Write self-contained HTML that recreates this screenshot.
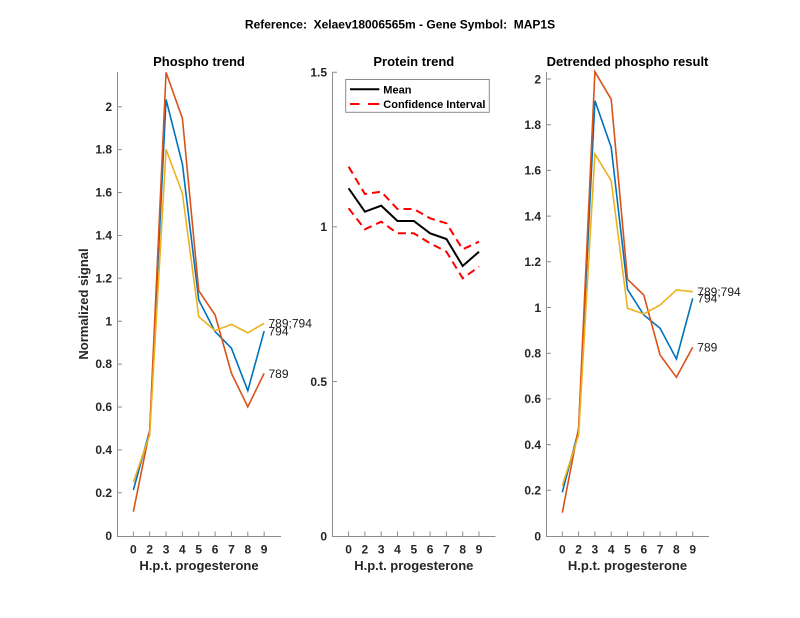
<!DOCTYPE html>
<html><head><meta charset="utf-8"><style>
html,body{margin:0;padding:0;background:#fff;}
svg{display:block;font-family:"Liberation Sans",Arial,sans-serif;}
.tk{font-size:12px;font-weight:bold;fill:#262626;}
.ax{stroke:#8c8c8c;stroke-width:1;fill:none;}
.ttl{font-size:13px;font-weight:bold;fill:#000;}
.xl{font-size:13px;font-weight:bold;fill:#262626;}
.dl{font-size:12px;fill:#1a1a1a;}
.ln{fill:none;stroke-width:1.6;stroke-linejoin:miter;}
</style></head><body>
<svg width="800" height="618" viewBox="0 0 800 618" xmlns="http://www.w3.org/2000/svg">
<rect width="800" height="618" fill="#fff"/>
<text x="400" y="28.5" text-anchor="middle" style="font-size:12px;font-weight:bold;white-space:pre" xml:space="preserve">Reference:  Xelaev18006565m - Gene Symbol:  MAP1S</text>

<!-- LEFT PANEL -->
<text class="ttl" x="199" y="66" text-anchor="middle">Phospho trend</text>
<path class="ax" d="M117.5 72 V536.5 H281"/>
<g class="ax">
<path d="M117.5 492.8h4.5M117.5 449.9h4.5M117.5 407h4.5M117.5 364.1h4.5M117.5 321.2h4.5M117.5 278.3h4.5M117.5 235.4h4.5M117.5 192.5h4.5M117.5 149.6h4.5M117.5 106.7h4.5"/>
<path d="M133.35 536v-4.5M149.7 536v-4.5M166.05 536v-4.5M182.4 536v-4.5M198.75 536v-4.5M215.1 536v-4.5M231.45 536v-4.5M247.8 536v-4.5M264.15 536v-4.5"/>
</g>
<g class="tk" text-anchor="end">
<text x="112" y="540">0</text><text x="112" y="497">0.2</text><text x="112" y="454">0.4</text><text x="112" y="411">0.6</text><text x="112" y="368">0.8</text><text x="112" y="325.5">1</text><text x="112" y="282.5">1.2</text><text x="112" y="239.5">1.4</text><text x="112" y="196.5">1.6</text><text x="112" y="153.5">1.8</text><text x="112" y="111">2</text>
</g>
<g class="tk" text-anchor="middle">
<text x="133.35" y="553.3">0</text><text x="149.7" y="553.3">2</text><text x="166.05" y="553.3">3</text><text x="182.4" y="553.3">4</text><text x="198.75" y="553.3">5</text><text x="215.1" y="553.3">6</text><text x="231.45" y="553.3">7</text><text x="247.8" y="553.3">8</text><text x="264.15" y="553.3">9</text>
</g>
<text class="xl" x="199" y="570" text-anchor="middle">H.p.t. progesterone</text>
<text class="xl" transform="translate(88,304) rotate(-90)" text-anchor="middle">Normalized signal</text>
<polyline class="ln" stroke="#0072BD" points="133.35,490 149.7,430.6 166.05,99.4 182.4,164 198.75,300 215.1,331.7 231.45,348.2 247.8,390.7 264.15,331.1"/>
<polyline class="ln" stroke="#D95319" points="133.35,511.7 149.7,430.6 166.05,72.4 182.4,118.3 198.75,290.7 215.1,315 231.45,373.3 247.8,406.8 264.15,373.3"/>
<polyline class="ln" stroke="#EDB120" points="133.35,482.3 149.7,434.9 166.05,149.4 182.4,193.4 198.75,316.7 215.1,330.6 231.45,324.4 247.8,332.8 264.15,323.3"/>
<text class="dl" x="268.5" y="327.5">789;794</text>
<text class="dl" x="268.5" y="335.5">794</text>
<text class="dl" x="268.5" y="378">789</text>

<!-- MIDDLE PANEL -->
<text class="ttl" x="413.8" y="66" text-anchor="middle">Protein trend</text>
<path class="ax" d="M332.5 72 V536.5 H495.5"/>
<g class="ax">
<path d="M332.5 72.3h4.5M332.5 226.9h4.5M332.5 381.5h4.5"/>
<path d="M348.6 536v-4.5M364.9 536v-4.5M381.2 536v-4.5M397.5 536v-4.5M413.8 536v-4.5M430.1 536v-4.5M446.4 536v-4.5M462.7 536v-4.5M479 536v-4.5"/>
</g>
<g class="tk" text-anchor="end">
<text x="327" y="540.3">0</text><text x="327" y="385.8">0.5</text><text x="327" y="231.2">1</text><text x="327" y="76.6">1.5</text>
</g>
<g class="tk" text-anchor="middle">
<text x="348.6" y="553.3">0</text><text x="364.9" y="553.3">2</text><text x="381.2" y="553.3">3</text><text x="397.5" y="553.3">4</text><text x="413.8" y="553.3">5</text><text x="430.1" y="553.3">6</text><text x="446.4" y="553.3">7</text><text x="462.7" y="553.3">8</text><text x="479" y="553.3">9</text>
</g>
<text class="xl" x="413.8" y="570" text-anchor="middle">H.p.t. progesterone</text>
<polyline fill="none" stroke="#FF0000" stroke-width="2" stroke-dasharray="8 5" points="348.6,166.7 364.9,194 381.2,191.7 397.5,209 413.8,209 430.1,218.3 446.4,223.3 462.7,249.3 479,241.7"/>
<polyline fill="none" stroke="#FF0000" stroke-width="2" stroke-dasharray="8 5" points="348.6,208.3 364.9,229.3 381.2,221.7 397.5,233.3 413.8,233.3 430.1,243.3 446.4,251.7 462.7,278.3 479,266.7"/>
<polyline fill="none" stroke="#000" stroke-width="2" points="348.6,188.3 364.9,211.7 381.2,205.7 397.5,221 413.8,221 430.1,233.3 446.4,239 462.7,266 479,251.7"/>
<rect x="345.7" y="79.5" width="143.6" height="32.8" fill="#fff" stroke="#8c8c8c" stroke-width="1"/>
<line x1="350" y1="89.3" x2="379.3" y2="89.3" stroke="#000" stroke-width="2"/>
<line x1="350" y1="104" x2="359.5" y2="104" stroke="#FF0000" stroke-width="2"/>
<line x1="368" y1="104" x2="379.3" y2="104" stroke="#FF0000" stroke-width="2"/>
<text x="383.3" y="93.3" style="font-size:11px;font-weight:bold;fill:#000">Mean</text>
<text x="383.3" y="108" style="font-size:11px;font-weight:bold;fill:#000">Confidence Interval</text>

<!-- RIGHT PANEL -->
<text class="ttl" x="627.5" y="66" text-anchor="middle">Detrended phospho result</text>
<path class="ax" d="M546.5 72 V536.5 H709"/>
<g class="ax">
<path d="M546.5 490.3h4.5M546.5 444.6h4.5M546.5 398.9h4.5M546.5 353.2h4.5M546.5 307.5h4.5M546.5 261.8h4.5M546.5 216.1h4.5M546.5 170.4h4.5M546.5 124.7h4.5M546.5 79h4.5"/>
<path d="M562.3 536v-4.5M578.6 536v-4.5M594.9 536v-4.5M611.2 536v-4.5M627.5 536v-4.5M643.8 536v-4.5M660.1 536v-4.5M676.4 536v-4.5M692.7 536v-4.5"/>
</g>
<g class="tk" text-anchor="end">
<text x="541" y="540.3">0</text><text x="541" y="494.6">0.2</text><text x="541" y="448.9">0.4</text><text x="541" y="403.2">0.6</text><text x="541" y="357.5">0.8</text><text x="541" y="311.8">1</text><text x="541" y="266.1">1.2</text><text x="541" y="220.4">1.4</text><text x="541" y="174.7">1.6</text><text x="541" y="129">1.8</text><text x="541" y="83.3">2</text>
</g>
<g class="tk" text-anchor="middle">
<text x="562.3" y="553.3">0</text><text x="578.6" y="553.3">2</text><text x="594.9" y="553.3">3</text><text x="611.2" y="553.3">4</text><text x="627.5" y="553.3">5</text><text x="643.8" y="553.3">6</text><text x="660.1" y="553.3">7</text><text x="676.4" y="553.3">8</text><text x="692.7" y="553.3">9</text>
</g>
<text class="xl" x="627.5" y="570" text-anchor="middle">H.p.t. progesterone</text>
<polyline class="ln" stroke="#0072BD" points="562.3,492.3 578.6,430 594.9,100.7 611.2,147.3 627.5,289.3 643.8,315 660.1,328.3 676.4,359 692.7,298.3"/>
<polyline class="ln" stroke="#D95319" points="562.3,512.7 578.6,428 594.9,71.7 611.2,99.3 627.5,279.3 643.8,295 660.1,355 676.4,377.3 692.7,347.3"/>
<polyline class="ln" stroke="#EDB120" points="562.3,485.7 578.6,435 594.9,154 611.2,180.7 627.5,308.3 643.8,314 660.1,305 676.4,290 692.7,291.7"/>
<text class="dl" x="697.3" y="296">789;794</text>
<text class="dl" x="697.3" y="302.5">794</text>
<text class="dl" x="697.3" y="351.5">789</text>
</svg>
</body></html>
